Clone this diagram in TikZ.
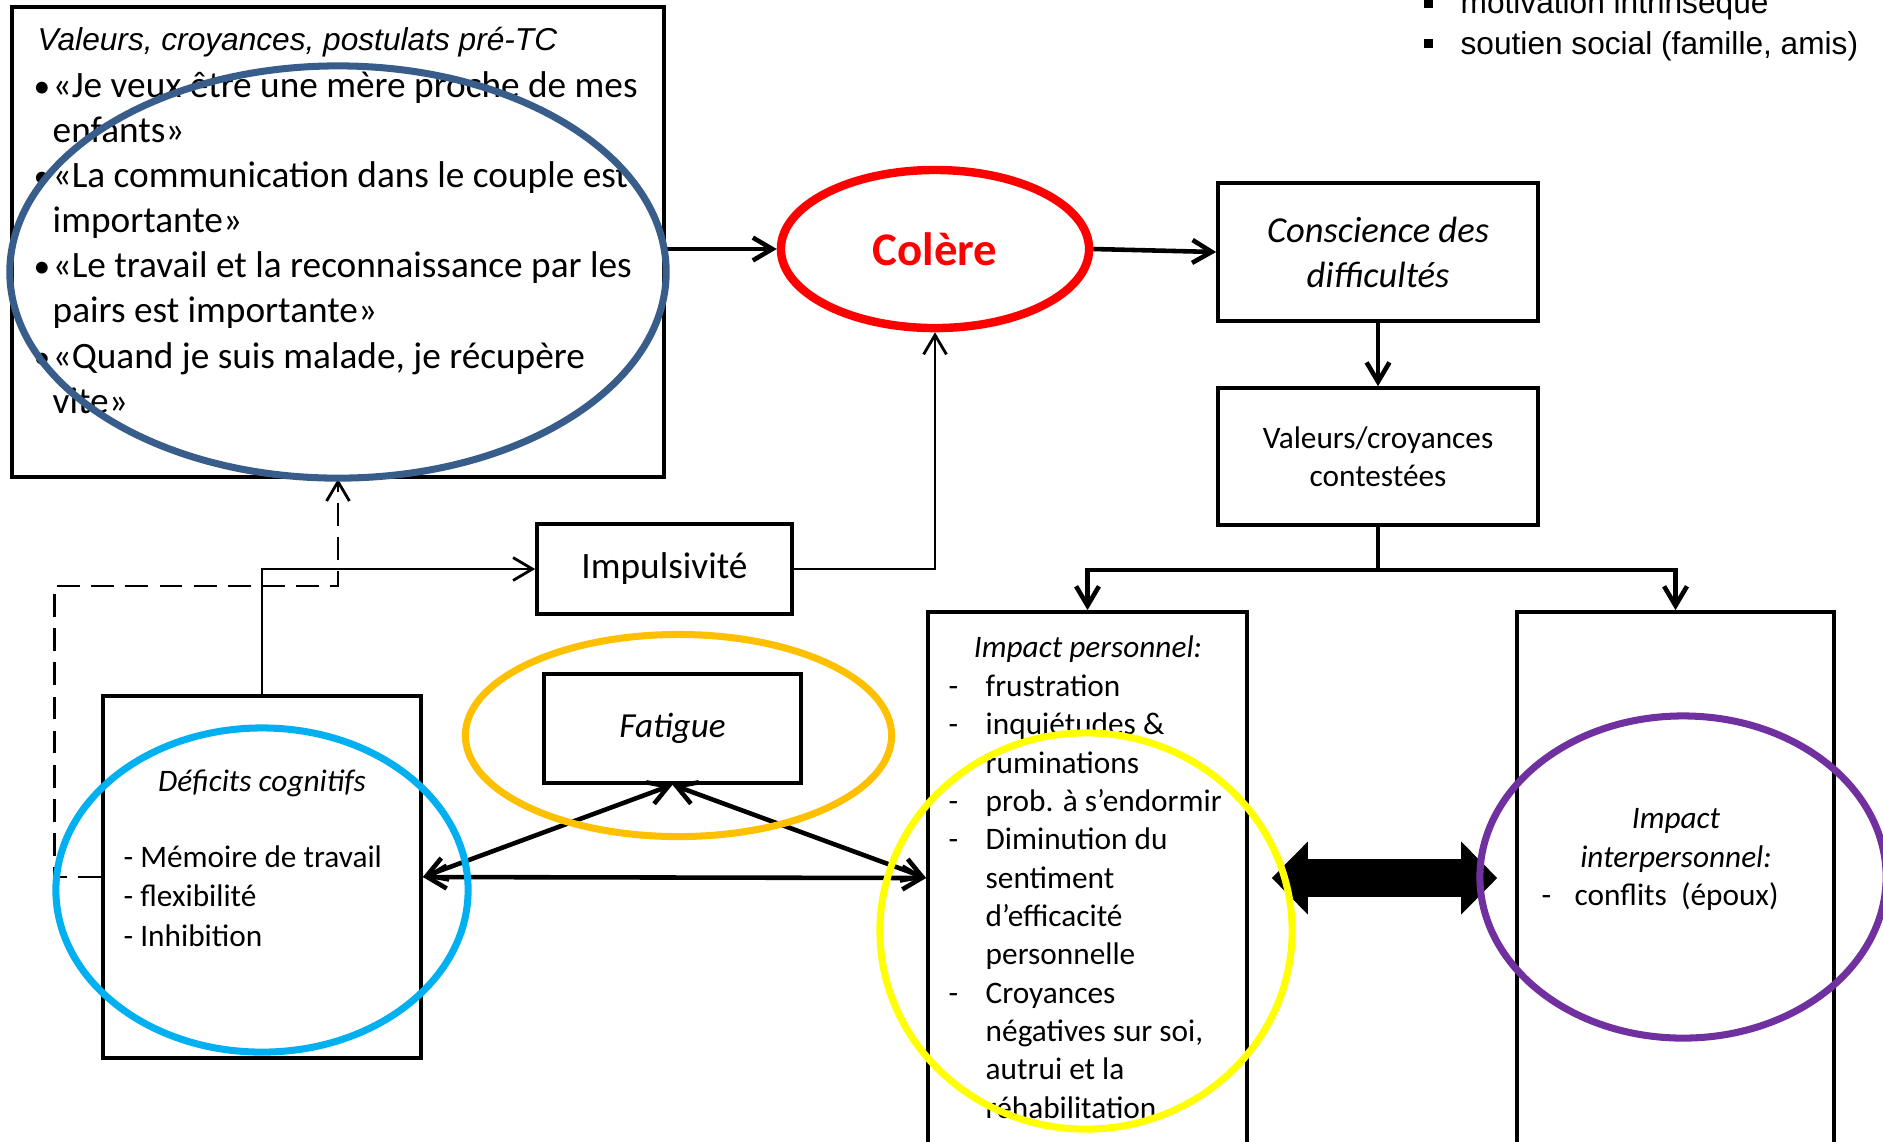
\documentclass[tikz,border=0pt]{standalone}
\usepackage{fontspec}
\setmainfont{Carlito}
\newfontfamily\arialfont{Liberation Sans}
\usetikzlibrary{arrows.meta,shapes.geometric}

\definecolor{ovalblue}{HTML}{385D8A}
\definecolor{ovalcyan}{HTML}{00B0F0}
\definecolor{ovalorange}{HTML}{FFC000}
\definecolor{ovalyellow}{HTML}{FFFF00}
\definecolor{ovalpurple}{HTML}{7030A0}

\newcommand{\blt}{\makebox[0.19cm][l]{\fontsize{9.5}{10}\selectfont\textbullet}}
\newcommand{\dsh}{\makebox[0.37cm][l]{-}}
\newcommand{\sqblt}{\makebox[10.5pt][l]{\rule[1.8pt]{2.6pt}{2.6pt}}}

\begin{document}
\begin{tikzpicture}[x=0.01cm, y=0.01cm, >={Straight Barb[length=5.5pt,width=6.5pt]},
    box/.style={draw, line width=1pt, inner sep=0pt},
    txt/.style={inner sep=0pt},
    link/.style={line width=0.8pt},
    boldlink/.style={line width=1.3pt},
    oval/.style={line width=2pt},
    big/.style={font=\fontsize{10.6}{12.8}\selectfont},
    small/.style={font=\fontsize{8.9}{10.9}\selectfont},
    smallit/.style={font=\itshape\fontsize{8.9}{10.9}\selectfont},
    bigarrow/.style={line width=0.38cm,
      {Triangle[length=0.36cm,width=0.73cm,line width=0pt]}-{Triangle[length=0.36cm,width=0.73cm,line width=0pt]},
      shorten <=0.23cm, shorten >=0.18cm}]
\useasboundingbox (0,0) rectangle (1883,-1141);

\node[txt, anchor=base west, align=left, font=\arialfont\fontsize{9}{11.4}\selectfont] (ressources) at (1423,-54)
  {\sqblt motivation intrinsèque\\ \sqblt soutien social (famille, amis)};

\node[box, minimum width=6.52cm, minimum height=4.70cm] (valBox) at (338,-242) {};
\node[txt, anchor=base west, font=\arialfont\itshape\fontsize{9}{11}\selectfont] (valTitle) at (37,-50)
  {Valeurs, croyances, postulats pré-TC};
\node[txt, anchor=base west, align=left, big] (valList) at (33,-413)
  {\blt «Je veux être une mère proche de mes\\
   \hspace*{0.19cm}enfants»\\
   \blt «La communication dans le couple est\\
   \hspace*{0.19cm}importante»\\
   \blt «Le travail et la reconnaissance par les\\
   \hspace*{0.19cm}pairs est importante»\\
   \blt «Quand je suis malade, je récupère\\
   \hspace*{0.19cm}vite»};

\node[ellipse, draw=red, line width=2.4pt, minimum width=3.08cm, minimum height=1.58cm,
  text=red, font=\bfseries\fontsize{13.3}{16}\selectfont] (colere) at (935,-249) {Colère};

\node[box, minimum width=3.20cm, minimum height=1.38cm, align=center,
  font=\itshape\fontsize{10.4}{12.8}\selectfont] (consc) at (1378,-252) {Conscience des\\difficultés};
\node[box, minimum width=3.20cm, minimum height=1.37cm, align=center, small] (contest) at (1378,-456.5)
  {Valeurs/croyances\\contestées};

\node[box, minimum width=2.55cm, minimum height=0.90cm, big] (impuls) at (664.5,-569) {Impulsivité};
\node[box, minimum width=2.57cm, minimum height=1.09cm, big, font=\itshape] (fatigue) at (672.5,-728.5) {Fatigue};

\node[box, minimum width=3.18cm, minimum height=3.62cm] (defic) at (262,-877) {};
\node[txt, anchor=base, smallit] (deficTitle) at (262,-791) {Déficits cognitifs};
\node[txt, anchor=base west, align=left, font=\fontsize{8.9}{11.1}\selectfont] (deficList) at (123,-946)
  {- Mémoire de travail\\- flexibilité\\- Inhibition};

\node[box, minimum width=3.19cm, minimum height=5.32cm] (impPers) at (1087.5,-878) {};
\node[txt, anchor=base, smallit] (persTitle) at (1088,-657) {Impact personnel:};
\node[txt, anchor=base west, align=left, small] (persList) at (948,-1118)
  {\dsh frustration\\
   \dsh inquiétudes \&\\
   \hspace*{0.37cm}ruminations\\
   \dsh prob. à s’endormir\\
   \dsh Diminution du\\
   \hspace*{0.37cm}sentiment\\
   \hspace*{0.37cm}d’efficacité\\
   \hspace*{0.37cm}personnelle\\
   \dsh Croyances\\
   \hspace*{0.37cm}négatives sur soi,\\
   \hspace*{0.37cm}autrui et la\\
   \hspace*{0.37cm}réhabilitation};

\node[box, minimum width=3.17cm, minimum height=5.32cm] (impInter) at (1675.5,-878) {};
\node[txt, anchor=base, align=center, smallit] (interTitle) at (1676,-867) {Impact\\interpersonnel:};
\node[txt, anchor=base west, small] (interList) at (1541,-905) {\makebox[0.33cm][l]{-}conflits\ \ (époux)};

\draw[->, boldlink] (valBox.east |- colere.west) -- (colere.west);
\draw[->, boldlink] (colere.east) -- (consc.west);
\draw[->, boldlink] (consc.south) -- (contest.north);
\draw[->, boldlink] (contest.south) -- ++(0,-43) coordinate (fork) -| (impPers.north);
\draw[->, boldlink] (fork) -| (impInter.north);
\draw[->, link] (defic.north) |- (impuls.west);
\draw[->, link] (impuls.east) -| (colere.south);
\draw[->, link, dash pattern=on 6.5pt off 3.2pt] (defic.west) -- ++(-47,0) -- ++(0,291) -| (valBox.south);
\draw[<->, boldlink] (fatigue.south) -- (defic.east);
\draw[<->, boldlink] (fatigue.south) -- (impPers.west);
\draw[<->, boldlink] (defic.east) -- (impPers.west);
\draw[bigarrow] (impPers.east) -- (impInter.west);

\draw[oval, ovalblue] (338,-272) ellipse [x radius=3.28cm, y radius=2.06cm];
\draw[oval, ovalcyan] (262,-890) ellipse [x radius=2.06cm, y radius=1.62cm];
\draw[oval, ovalorange] (678.5,-735.5) ellipse [x radius=2.13cm, y radius=1.01cm];
\draw[oval, ovalyellow] (1086,-931) ellipse [x radius=2.06cm, y radius=1.98cm];
\draw[oval, ovalpurple] (1683,-877) ellipse [x radius=2.03cm, y radius=1.61cm];
\end{tikzpicture}
\end{document}
